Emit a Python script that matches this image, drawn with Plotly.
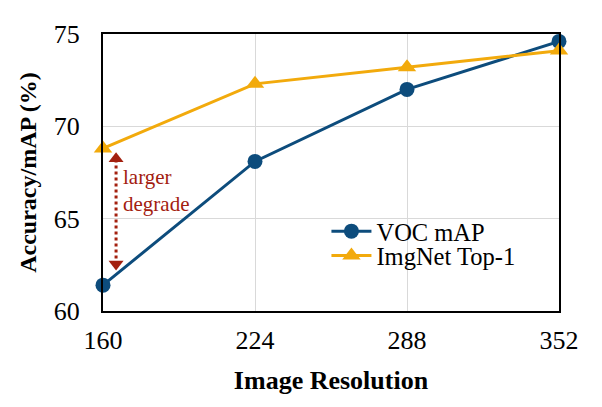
import plotly.graph_objects as go

resolutions = [160, 224, 288, 352]
voc_map = [61.4, 68.1, 72.0, 74.6]
imgnet_top1 = [68.8, 72.3, 73.2, 74.1]
y_ticks = [60, 65, 70, 75]

BLUE = "#0d4c7c"
ORANGE = "#f2aa0c"
RED = "#a3200f"
FONT = "Liberation Serif, Times New Roman, serif"

fig = go.Figure()

# dotted double arrow annotation
fig.add_trace(go.Scatter(
    x=[165.5, 165.5], y=[68.2, 62.6], mode="lines",
    line=dict(color=RED, width=3, dash="dot"),
    showlegend=False, hoverinfo="skip", cliponaxis=False))
fig.add_trace(go.Scatter(
    x=[165.5, 165.5], y=[68.25, 62.55], mode="markers",
    marker=dict(symbol=["triangle-up", "triangle-down"], size=13, color=RED),
    showlegend=False, hoverinfo="skip", cliponaxis=False))

fig.add_trace(go.Scatter(
    x=resolutions, y=voc_map, name="VOC mAP", mode="lines+markers",
    line=dict(color=BLUE, width=3), legend="legend",
    marker=dict(symbol="circle", size=15, color=BLUE), cliponaxis=False))
fig.add_trace(go.Scatter(
    x=resolutions, y=imgnet_top1, name="ImgNet Top-1", mode="lines+markers",
    line=dict(color=ORANGE, width=3), legend="legend2",
    marker=dict(symbol="triangle-up", size=16, color=ORANGE), cliponaxis=False))

fig.add_annotation(x=167.5, y=66.5, xref="x", yref="y", text="larger<br>degrade",
                   showarrow=False, xanchor="left", yanchor="middle", align="left",
                   font=dict(family=FONT, size=21, color=RED))

leg = dict(x=0.49, xanchor="left", yanchor="middle", bgcolor="rgba(0,0,0,0)",
           font=dict(family=FONT, size=24.5), itemwidth=40)

fig.update_layout(
    width=602, height=407,
    margin=dict(l=95, r=51, t=21, b=104),
    paper_bgcolor="white", plot_bgcolor="white",
    font=dict(family=FONT, color="black"),
    showlegend=True,
    legend=dict(leg, y=0.288),
    legend2=dict(leg, y=0.200),
    xaxis=dict(range=[160, 352], tickvals=resolutions, ticktext=[str(r) for r in resolutions],
               showgrid=True, gridcolor="#d9d9d9", gridwidth=1,
               showline=True, linecolor="black", linewidth=2, mirror=True,
               zeroline=False, ticks="", tickfont=dict(size=26, family=FONT),
               ticklabelstandoff=5,
               title=dict(text="<b>Image Resolution</b>", font=dict(size=26, family=FONT), standoff=17)),
    yaxis=dict(range=[60, 75], tickvals=y_ticks,
               showgrid=True, gridcolor="#d9d9d9", gridwidth=1,
               showline=True, linecolor="black", linewidth=2, mirror=True,
               zeroline=False, ticks="", tickfont=dict(size=26, family=FONT),
               ticklabelstandoff=16,
               title=dict(text="<b>Accuracy/mAP (%)</b>", font=dict(size=24, family=FONT), standoff=10)),
)

fig.write_html("out.html")
